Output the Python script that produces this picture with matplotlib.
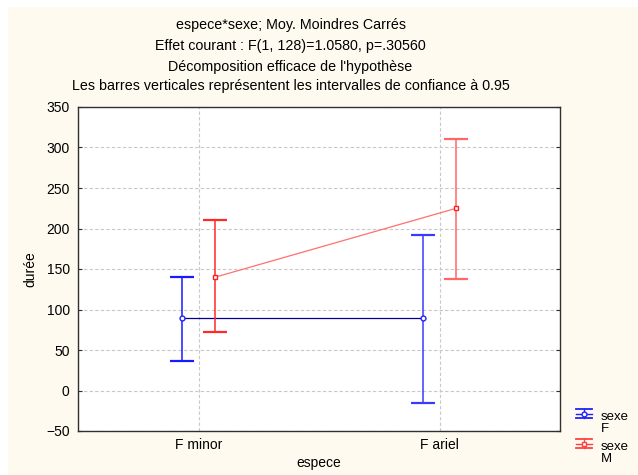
import matplotlib
matplotlib.use("Agg")
import matplotlib.pyplot as plt
from matplotlib.lines import Line2D
from matplotlib.patches import Rectangle

plt.rcParams['font.family'] = ['Liberation Sans', 'DejaVu Sans']

categories = ["F minor", "F ariel"]
sexes = ["F", "M"]
mean_F = [90, 90]
low_F = [37, -16]
high_F = [140, 192]
mean_M = [140, 225]
low_M = [72, 138]
high_M = [210, 310]
yticks = [-50, 0, 50, 100, 150, 200, 250, 300, 350]

title_lines = [
    "espece*sexe; Moy. Moindres Carrés",
    "Effet courant : F(1, 128)=1.0580, p=.30560",
    "Décomposition efficace de l'hypothèse",
    "Les barres verticales représentent les intervalles de confiance à 0.95",
]

W, H = 638, 475
FS = 10
fig = plt.figure(figsize=(W / 100, H / 100), dpi=100)
fig.patch.set_facecolor("white")
fig.patches.append(Rectangle((8 / W, 0), 1 - 8 / W, 1 - 7 / H, transform=fig.transFigure,
                             facecolor="#fffaf0", edgecolor="none", zorder=-10))

ax = fig.add_axes([78 / W, 1 - 431 / H, (560 - 78) / W, (431 - 107) / H])
ax.set_facecolor("white")
ax.set_xlim(-0.5, 1.5)
ax.set_ylim(-50, 350)
ax.set_yticks(yticks)
ax.set_xticks(range(len(categories)))
ax.set_xticklabels(categories)
ax.grid(True, linestyle=(0, (3, 2)), color="#c8c8c8", linewidth=0.8)
ax.set_axisbelow(True)
for s in ax.spines.values():
    s.set_color("#303030")
    s.set_linewidth(1.0)
ax.tick_params(axis="both", labelsize=FS, length=3, color="#303030")
ax.tick_params(axis="y", right=True, direction="in", pad=6)
ax.tick_params(axis="x", length=0, pad=5)
ax.set_ylabel("durée", fontsize=FS, labelpad=6)
ax.set_xlabel("espece", fontsize=FS, labelpad=3)

off = 0.07
x = list(range(len(categories)))
xF = [v - off for v in x]
xM = [v + off for v in x]

colF = ["#1a1aff", "#3a3aff"]
colM = ["#ff2a2a", "#ff6666"]

# lines between means
ax.plot(xF, mean_F, color="#000090", lw=0.9, zorder=2)
ax.plot(xM, mean_M, color="#ff7070", lw=0.9, zorder=2)

# error bars
for i in range(len(categories)):
    ax.errorbar([xF[i]], [mean_F[i]], yerr=[[mean_F[i] - low_F[i]], [high_F[i] - mean_F[i]]],
                fmt="none", ecolor=colF[i], elinewidth=1.1, capsize=8.5, capthick=1.6, zorder=3)
    ax.errorbar([xM[i]], [mean_M[i]], yerr=[[mean_M[i] - low_M[i]], [high_M[i] - mean_M[i]]],
                fmt="none", ecolor=colM[i], elinewidth=1.1, capsize=8.5, capthick=1.6, zorder=3)
ax.plot(xF, mean_F, linestyle="none", marker="o", ms=3.5, mfc="white", mec="#2020ff", mew=1, zorder=4)
ax.plot(xM, mean_M, linestyle="none", marker="s", ms=3.5, mfc="white", mec="#ff2020", mew=1, zorder=4)

# title
ys = [29, 50, 70.5, 90]
for t, yy in zip(title_lines, ys):
    fig.text(290.5 / W, 1 - yy / H, t, ha="center", va="baseline", fontsize=10.3)

# legend (manual)
def leg(y0, col, marker, label):
    tr = fig.transFigure
    x0, x1 = 576 / W, 592 / W
    xc = (x0 + x1) / 2
    for dy, lw in [(-4.5, 1.3), (0, 1.0), (4.5, 1.3)]:
        fig.add_artist(Line2D([x0, x1], [1 - (y0 + dy) / H] * 2, color=col, lw=lw, transform=tr))
    fig.add_artist(Line2D([xc, xc], [1 - (y0 - 4.5) / H, 1 - (y0 + 4.5) / H], color=col, lw=1, transform=tr))
    fig.add_artist(Line2D([xc], [1 - y0 / H], marker=marker, ms=3.5, mfc="white", mec=col,
                          linestyle="none", transform=tr))
    fig.text(601 / W, 1 - (y0 + 6) / H, "sexe", fontsize=9.5, va="baseline", ha="left")
    fig.text(601 / W, 1 - (y0 + 19) / H, label, fontsize=9.5, va="baseline", ha="left")

leg(413.5, "#2020ff", "o", "F")
leg(443.5, "#ff4040", "s", "M")

fig.savefig("out.png", dpi=100, facecolor=fig.get_facecolor())
